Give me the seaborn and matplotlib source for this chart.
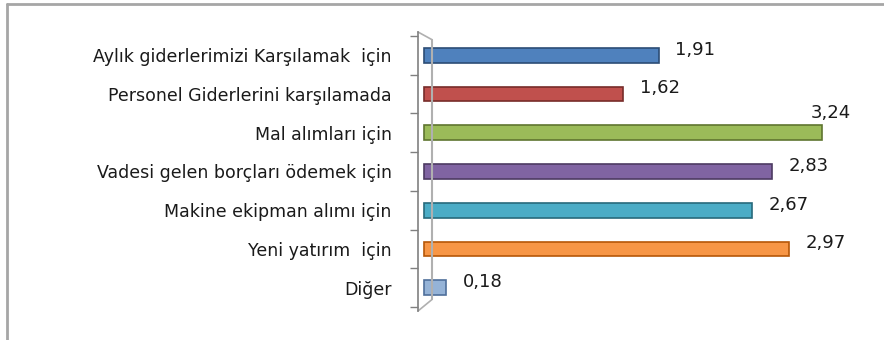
import matplotlib
matplotlib.use("Agg")
import matplotlib.pyplot as plt
import seaborn as sns
import pandas as pd

categories = ["Aylık giderlerimizi Karşılamak  için",
              "Personel Giderlerini karşılamada",
              "Mal alımları için",
              "Vadesi gelen borçları ödemek için",
              "Makine ekipman alımı için",
              "Yeni yatırım  için",
              "Diğer"]
values = [1.91, 1.62, 3.24, 2.83, 2.67, 2.97, 0.18]
colors = ["#4F81BD", "#C0504D", "#9BBB59", "#8064A2", "#4BACC6", "#F79646", "#95B3D7"]
edges = ["#2c4d75", "#772c2a", "#5f7530", "#4d3b62", "#276a7c", "#b65708", "#4f6f9b"]

sns.set_style("white")
plt.rcParams["font.family"] = ["DejaVu Sans"]

df = pd.DataFrame({"kategori": categories, "deger": values})

fig = plt.figure(figsize=(8.84, 3.4), dpi=100)
ax = fig.add_axes([418 / 884, 29 / 340, 442 / 884, 279 / 340])
sns.barplot(data=df, y="kategori", x="deger", hue="kategori", palette=colors,
            saturation=1, legend=False, width=0.38, ax=ax, orient="h")
for p, ec in zip(ax.patches, edges):
    p.set_edgecolor(ec)
    p.set_linewidth(1.2)

ax.set_xlim(-0.05, 3.55)
ax.set_ylim(6.6, -0.6)
ax.set_xlabel("")
ax.set_ylabel("")
ax.set_xticks([])
ax.set_yticks(range(len(categories)))
ax.set_yticklabels(categories, fontsize=12.5, color="#1a1a1a")
ax.tick_params(axis="y", which="major", left=False, length=0, pad=19)
ax.set_yticks([i - 0.5 for i in range(len(categories) + 1)], minor=True)
ax.tick_params(axis="y", which="minor", left=True, length=6, color="#808080", width=1)
for s in ["top", "right", "bottom"]:
    ax.spines[s].set_visible(False)
ax.spines["left"].set_color("#808080")
ax.spines["left"].set_linewidth(1.2)
ax.spines["left"].set_bounds(-0.6, 6.6)

# 3D wall of the axis
tr = ax.get_yaxis_transform()
ax.plot([0.032, 0.032], [-0.4, 6.3], transform=tr, color="#b0b0b0", lw=1.5, clip_on=False)
ax.plot([0.0, 0.032], [-0.6, -0.4], transform=tr, color="#b0b0b0", lw=1.2, clip_on=False)
ax.plot([0.0, 0.032], [6.6, 6.3], transform=tr, color="#b0b0b0", lw=1.2, clip_on=False)

vmax = max(values)
for i, v in enumerate(values):
    txt = f"{v:.2f}".replace(".", ",")
    if v == vmax:
        # longest bar: label sits above the bar end
        ax.annotate(txt, xy=(v, i), xytext=(21, 14), textcoords="offset points",
                    ha="right", va="center", fontsize=13, color="#1a1a1a")
    else:
        ax.annotate(txt, xy=(v, i), xytext=(12, 4), textcoords="offset points",
                    ha="left", va="center", fontsize=13, color="#1a1a1a")

# outer frame
fig.add_artist(plt.Line2D([7 / 884, 7 / 884], [0, 1 - 4 / 340], color="#a6a6a6", lw=2))
fig.add_artist(plt.Line2D([7 / 884, 1], [1 - 4 / 340, 1 - 4 / 340], color="#a6a6a6", lw=2))

fig.savefig("out.png", dpi=100)
